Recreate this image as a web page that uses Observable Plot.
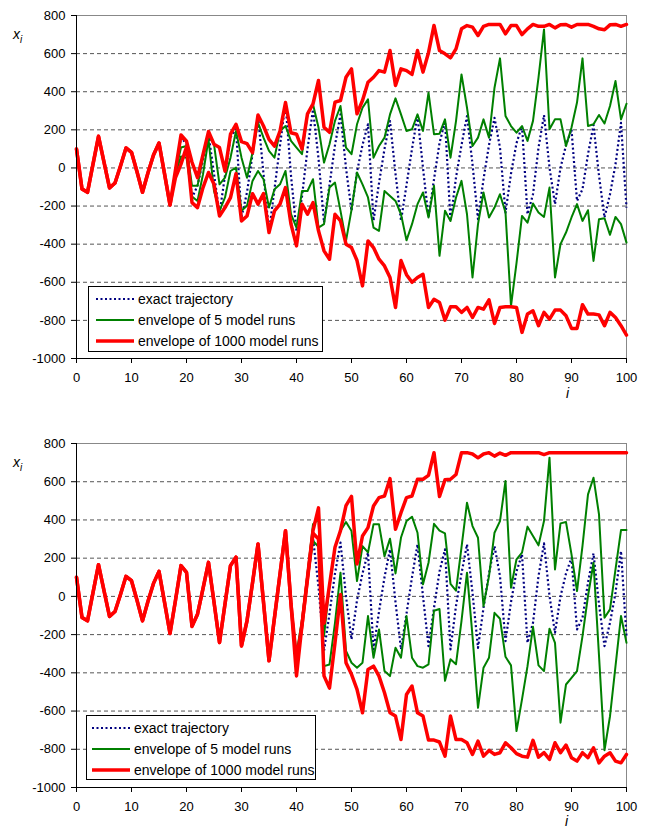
<!DOCTYPE html>
<html><head><meta charset="utf-8">
<script src="https://cdn.jsdelivr.net/npm/d3@7"></script>
<script src="https://cdn.jsdelivr.net/npm/@observablehq/plot@0.6"></script>
<style>
body{margin:0;background:#fff;font-family:"Liberation Sans",Arial,sans-serif;}
.panel{position:relative;width:648px;}
.panel svg{display:block;}
.legend{position:absolute;background:#fff;border:1px solid #000;box-sizing:border-box;font-size:14px;color:#000;}
.row{position:absolute;height:20px;display:flex;align-items:center;white-space:nowrap;}
.lab{position:absolute;font-style:italic;font-size:14px;color:#000;}
.lab sub{font-size:10px;}
</style>
</head><body>
<div id="wrap"></div>
<script>
// step index 0..100
const steps = d3.range(0, 101);
const xTicks = [0,10,20,30,40,50,60,70,80,90,100];
const yTicks = [-1000,-800,-600,-400,-200,0,200,400,600,800];
const legendLabels = ["exact trajectory", "envelope of 5 model runs", "envelope of 1000 model runs"];

const exact = [100,-110,-128,20,166,30,-105,-79,10,105,
 82,-20,-128,-25,68,131,-30,-194,-20,161,
 126,-157,-93,40,178,-30,-241,-40,161,205,
 -259,-128,70,274,-30,-337,-110,117,344,-40,
 -330,-150,100,307,50,-286,-90,120,281,0,
 -225,-20,120,229,-277,-80,100,246,-30,-277,
 -90,100,272,0,-260,-60,130,246,-277,-50,
 120,272,20,-269,-60,120,263,106,-234,-30,
 130,220,-243,-138,106,277,2,-190,0,120,
 202,-173,-112,72,225,-40,-260,-138,19,237,
 -208];

// top panel
const topRedUpper = [100,-110,-128,20,166,30,-105,-79,10,105,
 82,-20,-128,-25,68,131,-30,-194,-10,173,
 140,30,-51,70,191,124,107,-16,177,229,
 138,128,80,278,220,150,115,194,343,185,
 177,100,284,336,459,214,187,345,354,476,
 520,284,354,450,476,511,503,616,433,520,
 511,491,616,503,605,748,616,599,578,625,
 730,747,739,695,743,753,753,753,704,747,
 747,700,730,753,743,743,753,735,751,753,
 739,753,753,753,743,730,725,751,753,743,
 753];
const topRedLower = [100,-110,-128,20,166,30,-105,-79,10,105,
 82,-20,-128,-25,68,131,-30,-194,-50,20,
 110,-182,-208,-103,-24,-86,-252,-208,-156,-30,
 -278,-252,-135,-190,-135,-339,-225,-190,-103,-295,
 -409,-190,-243,-182,-330,-435,-479,-243,-278,-400,
 -418,-486,-619,-383,-418,-479,-514,-575,-732,-486,
 -560,-600,-575,-558,-732,-689,-706,-799,-729,-729,
 -758,-732,-785,-732,-741,-692,-816,-732,-729,-729,
 -732,-863,-767,-750,-828,-758,-793,-746,-746,-776,
 -842,-842,-718,-767,-767,-771,-828,-758,-785,-828,
 -877];
const topGreenUpper = [100,-110,-128,20,166,30,-105,-79,10,105,
 82,-20,-128,-25,68,131,-30,-194,-20,107,
 115,-94,-94,54,168,124,-86,-51,54,194,
 54,-51,80,238,159,89,54,194,220,142,
 107,72,281,334,212,28,124,247,325,107,
 72,229,316,360,54,115,159,281,365,281,
 194,203,281,194,395,177,180,255,54,246,
 491,316,115,159,255,159,421,575,273,220,
 185,220,142,247,474,727,203,255,255,115,
 212,343,575,220,229,278,233,325,456,255,
 337];
const topGreenLower = [100,-110,-128,20,166,30,-105,-79,10,105,
 82,-20,-128,-25,68,131,-30,-194,-30,60,
 54,-150,-173,-33,150,-121,-225,-155,-16,2,
 -225,-199,-68,-16,-59,-208,-112,-86,-16,-243,
 -313,-121,-121,-59,-313,-295,-103,-77,-225,-383,
 -220,-24,-86,-155,-313,-330,-121,-147,-173,-243,
 -380,-295,-190,-129,-260,-94,-461,-225,-278,-155,
 -68,-243,-575,-295,-129,-260,-208,-138,-234,-724,
 -500,-252,-287,-187,-234,-257,-103,-575,-400,-339,
 -260,-190,-278,-222,-488,-269,-264,-351,-257,-295,
 -392];

// bottom panel
const botRedUpper = [100,-110,-128,20,166,30,-105,-79,10,105,
 82,-20,-128,-25,68,131,-30,-194,-20,161,
 126,-157,-93,40,178,-30,-241,-40,161,205,
 -259,-128,70,274,-30,-337,-110,117,344,-40,
 -330,-150,100,344,463,-140,60,257,344,475,
 523,170,316,360,473,517,525,616,351,438,
 517,525,613,613,633,752,523,610,613,638,
 752,752,745,725,745,752,734,750,738,752,
 752,752,752,752,752,742,752,752,752,752,
 752,752,752,752,752,752,752,752,752,752,
 752];
const botRedLower = [100,-110,-128,20,166,30,-105,-79,10,105,
 82,-20,-128,-25,68,131,-30,-194,-20,161,
 126,-157,-93,40,178,-30,-241,-40,161,205,
 -259,-128,70,274,-30,-337,-110,117,344,-40,
 -416,-150,90,330,300,-416,-480,-243,10,-347,
 -408,-487,-609,-382,-365,-417,-504,-609,-626,-749,
 -513,-469,-609,-626,-752,-752,-762,-836,-626,-749,
 -749,-766,-827,-757,-836,-806,-827,-818,-766,-792,
 -823,-836,-841,-753,-841,-818,-853,-766,-818,-778,
 -844,-862,-818,-844,-792,-871,-836,-818,-862,-871,
 -827];
const botGreenUpper = [100,-110,-128,20,166,30,-105,-79,10,105,
 82,-20,-128,-25,68,131,-30,-194,-20,161,
 126,-157,-93,40,178,-30,-241,-40,161,205,
 -259,-128,70,274,-30,-337,-110,117,344,-40,
 -300,-120,120,377,403,-208,60,257,344,389,
 342,80,263,230,377,377,210,302,120,308,
 394,417,333,63,176,380,344,330,65,30,
 257,490,368,307,-51,106,333,394,604,45,
 194,229,365,316,267,394,726,141,382,389,
 220,28,264,534,621,429,-112,-68,141,347,
 347];
const botGreenLower = [100,-110,-128,20,166,30,-105,-79,10,105,
 82,-20,-128,-25,68,131,-30,-194,-20,161,
 126,-157,-93,40,178,-30,-241,-40,161,205,
 -259,-128,70,274,-30,-337,-110,117,344,-40,
 -330,-160,80,290,260,-365,-356,-138,124,-286,
 -347,-373,-347,-103,-321,-173,-391,-417,-269,-321,
 -103,-321,-365,-373,-356,-75,-66,-442,-329,-355,
 -128,124,-208,-583,-373,-321,-86,-117,-316,-361,
 -705,-539,-365,-159,-361,-391,-169,-243,-661,-461,
 -426,-391,-208,2,176,-310,-805,-627,-365,-103,
 -243];

const NAVY = "#000080", GREEN = "#008000", RED = "#ff0000";
const toRows = arr => steps.map(i => ({i, v: arr[i]}));

function makePanel(opt) {
  const {ru, rl, gu, gl, height, mt, mb} = opt;
  const lineOpts = {x: "i", y: "v"};
  return Plot.plot({
    width: 648, height, marginLeft: 76, marginRight: 22, marginTop: mt, marginBottom: mb,
    style: {fontFamily: "'Liberation Sans', Arial, sans-serif", fontSize: "13px", color: "#000", background: "#fff", overflow: "visible"},
    x: {domain: [0, 100]},
    y: {domain: [-1000, 800]},
    marks: [
      Plot.ruleY(yTicks.slice(1, -1), {stroke: "#555", strokeDasharray: "4,3", strokeWidth: 1}),
      Plot.frame({stroke: "#888", strokeWidth: 1}),
      Plot.line(toRows(exact), {...lineOpts, stroke: NAVY, strokeWidth: 2.2, strokeDasharray: "2,2.5", strokeLinecap: "butt"}),
      Plot.line(toRows(gu), {...lineOpts, stroke: GREEN, strokeWidth: 2}),
      Plot.line(toRows(gl), {...lineOpts, stroke: GREEN, strokeWidth: 2}),
      Plot.line(toRows(ru), {...lineOpts, stroke: RED, strokeWidth: 3.5}),
      Plot.line(toRows(rl), {...lineOpts, stroke: RED, strokeWidth: 3.5}),
      Plot.ruleX([0], {stroke: "#000", strokeWidth: 1}),
      Plot.ruleY([-1000], {stroke: "#000", strokeWidth: 1}),
      Plot.axisY({ticks: yTicks, tickSize: 5, tickPadding: 6, tickFormat: d => String(d), label: null}),
      Plot.axisX({ticks: xTicks, tickSize: 5, tickPadding: 9, tickFormat: d => String(d), label: null})
    ]
  });
}

function swatch(kind) {
  const ns = "http://www.w3.org/2000/svg";
  const s = document.createElementNS(ns, "svg");
  s.setAttribute("width", 38); s.setAttribute("height", 8);
  s.style.display = "block";
  const l = document.createElementNS(ns, "line");
  l.setAttribute("x1", 0); l.setAttribute("x2", 38); l.setAttribute("y1", 4); l.setAttribute("y2", 4);
  if (kind === 0) { l.setAttribute("stroke", NAVY); l.setAttribute("stroke-width", 2.2); l.setAttribute("stroke-dasharray", "2,2.5"); }
  if (kind === 1) { l.setAttribute("stroke", GREEN); l.setAttribute("stroke-width", 2); }
  if (kind === 2) { l.setAttribute("stroke", RED); l.setAttribute("stroke-width", 3.5); }
  s.appendChild(l);
  return s;
}

function addLegend(div, box) {
  const lg = document.createElement("div");
  lg.className = "legend";
  Object.assign(lg.style, {left: box.left + "px", top: box.top + "px", width: box.width + "px", height: box.height + "px"});
  legendLabels.forEach((t, k) => {
    const r = document.createElement("div");
    r.className = "row";
    r.style.left = box.sw + "px";
    r.style.top = (box.rows[k] - 10) + "px";
    const sw = swatch(k);
    sw.style.marginRight = "4px";
    r.appendChild(sw);
    const sp = document.createElement("span");
    sp.textContent = t;
    r.appendChild(sp);
    lg.appendChild(r);
  });
  div.appendChild(lg);
}

function addLabels(div, yl, xl) {
  const a = document.createElement("div");
  a.className = "lab";
  a.innerHTML = "x<sub>i</sub>";
  Object.assign(a.style, {left: yl[0] + "px", top: yl[1] + "px"});
  div.appendChild(a);
  const b = document.createElement("div");
  b.className = "lab";
  b.textContent = "i";
  Object.assign(b.style, {left: xl[0] + "px", top: xl[1] + "px"});
  div.appendChild(b);
}

const wrap = document.getElementById("wrap");

const p1 = document.createElement("div"); p1.className = "panel";
p1.appendChild(makePanel({ru: topRedUpper, rl: topRedLower, gu: topGreenUpper, gl: topGreenLower, height: 414, mt: 15, mb: 56}));
addLegend(p1, {left: 88, top: 286, width: 235, height: 66, sw: 7, rows: [12, 33, 54]});
addLabels(p1, [13, 26], [566, 385]);
wrap.appendChild(p1);

const p2 = document.createElement("div"); p2.className = "panel";
p2.appendChild(makePanel({ru: botRedUpper, rl: botRedLower, gu: botGreenUpper, gl: botGreenLower, height: 415, mt: 29, mb: 42}));
addLegend(p2, {left: 86, top: 301, width: 230, height: 65, sw: 5, rows: [12, 33, 54]});
addLabels(p2, [13, 40], [565, 399]);
wrap.appendChild(p2);
</script>
</body></html>
